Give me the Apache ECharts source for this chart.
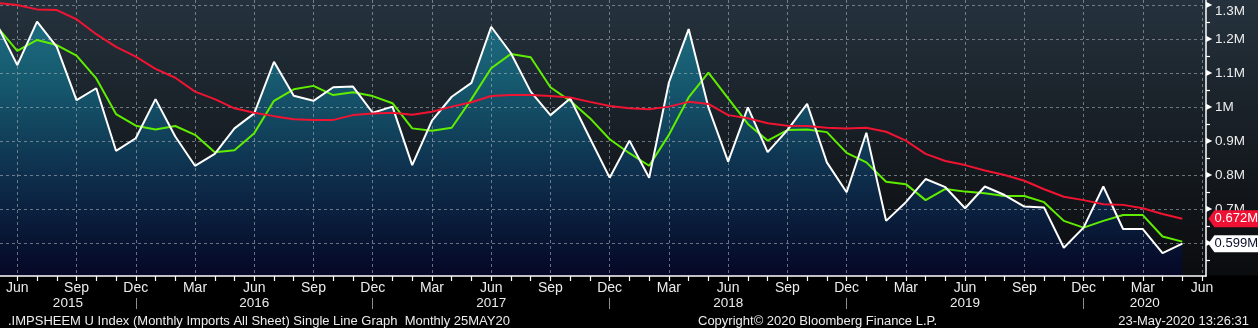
<!DOCTYPE html>
<html>
<head>
<meta charset="utf-8">
<style>
  html, body { margin: 0; padding: 0; background: #000; }
  #chart { width: 1258px; height: 328px; }
</style>
<script src="https://cdn.jsdelivr.net/npm/echarts@6/dist/echarts.min.js"></script>
</head>
<body>
<div id="chart"></div>
<script>
// ---- data (values in millions), monthly May 2015 .. May 2020 ----
const months = [
  '2015-05','2015-06','2015-07','2015-08','2015-09','2015-10','2015-11','2015-12',
  '2016-01','2016-02','2016-03','2016-04','2016-05','2016-06','2016-07','2016-08','2016-09','2016-10','2016-11','2016-12',
  '2017-01','2017-02','2017-03','2017-04','2017-05','2017-06','2017-07','2017-08','2017-09','2017-10','2017-11','2017-12',
  '2018-01','2018-02','2018-03','2018-04','2018-05','2018-06','2018-07','2018-08','2018-09','2018-10','2018-11','2018-12',
  '2019-01','2019-02','2019-03','2019-04','2019-05','2019-06','2019-07','2019-08','2019-09','2019-10','2019-11','2019-12',
  '2020-01','2020-02','2020-03','2020-04','2020-05'
];
const imports = [
  1.240,1.124,1.252,1.178,1.021,1.056,0.872,0.909,
  1.024,0.914,0.828,0.863,0.938,0.982,1.134,1.034,1.019,1.059,1.061,0.984,
  1.002,0.830,0.961,1.031,1.072,1.237,1.159,1.046,0.977,1.026,0.909,0.793,
  0.902,0.793,1.073,1.230,1.000,0.840,1.000,0.868,0.933,1.010,0.838,0.750,
  0.925,0.666,0.721,0.789,0.765,0.703,0.767,0.742,0.708,0.705,0.587,0.646,
  0.767,0.642,0.642,0.571,0.599
];
const avg3m = [
  1.235,1.166,1.198,1.183,1.152,1.085,0.980,0.946,
  0.935,0.945,0.919,0.868,0.874,0.924,1.019,1.053,1.063,1.036,1.044,1.033,
  1.012,0.938,0.931,0.940,1.024,1.115,1.157,1.147,1.059,1.019,0.968,0.906,
  0.865,0.828,0.919,1.029,1.102,1.026,0.951,0.902,0.933,0.935,0.927,0.866,
  0.838,0.781,0.774,0.727,0.760,0.752,0.747,0.739,0.739,0.721,0.666,0.646,
  0.666,0.683,0.683,0.620,0.605
];
const avg12m = [
  1.307,1.301,1.288,1.286,1.259,1.215,1.178,1.149,
  1.113,1.087,1.046,1.024,0.997,0.984,0.974,0.965,0.963,0.963,0.977,0.982,
  0.984,0.978,0.987,1.002,1.015,1.033,1.036,1.036,1.033,1.029,1.016,1.004,
  0.997,0.994,1.002,1.016,1.010,0.977,0.968,0.953,0.946,0.945,0.940,0.938,
  0.940,0.928,0.902,0.863,0.842,0.830,0.814,0.801,0.784,0.759,0.737,0.727,
  0.715,0.713,0.703,0.686,0.672
];
const yTickValues = [0.6,0.7,0.8,0.9,1.0,1.1,1.2,1.3];
const yMinorValues = [0.55,0.65,0.75,0.85,0.95,1.05,1.15,1.25];
const monthNames = ['Jan','Feb','Mar','Apr','May','Jun','Jul','Aug','Sep','Oct','Nov','Dec'];
const footerLeft = '.IMPSHEEM U Index (Monthly Imports All Sheet) Single Line Graph  Monthly 25MAY20';
const footerMid = 'Copyright\u00A9 2020 Bloomberg Finance L.P.';
const footerRight = '23-May-2020 13:26:31';

// ---- helpers: month index with Jun 2015 = 0 ----
const BASE_Y = 2015, BASE_M = 6;
function idxOf(s) { const [y, m] = s.split('-').map(Number); return (y - BASE_Y) * 12 + (m - BASE_M); }
function monthOf(v) { const r = Math.round(v); return ((BASE_M - 1 + r) % 12 + 12) % 12; }
function yearOf(v) { return BASE_Y + Math.floor((BASE_M - 1 + v) / 12); }
const pair = arr => months.map((m, i) => [idxOf(m), arr[i]]);

const X_MIN = -0.876, X_MAX = 60.2;
const Y_MIN = 0.5038, Y_MAX = 1.3156;
const allMonths = [], quarters = [], decs = [];
for (let i = -1; i <= 61; i++) {
  allMonths.push(i);
  const mo = monthOf(i);
  if (mo % 3 === 2) quarters.push(i);
  if (mo === 11) decs.push(i);
}
// year label positions: middle of each visible year span between Dec separators
const bounds = [X_MIN].concat(decs.filter(d => d > X_MIN && d < X_MAX)).concat([X_MAX]);
const yearMids = [];
for (let k = 0; k < bounds.length - 1; k++) yearMids.push((bounds[k] + bounds[k + 1]) / 2);

const FONT = "'Liberation Sans Narrow','Liberation Sans',Arial,sans-serif";
const TXT = '#ececec';
const gridDash = { color: 'rgba(165,172,180,0.62)', width: 1, type: [3, 3] };
const lastI = months.length - 1;
const tagPath = 'path://M0,8 L7,0 L60,0 L60,16 L7,16 Z';

const chart = echarts.init(document.getElementById('chart'), null, { renderer: 'canvas' });
chart.setOption({
  animation: false,
  backgroundColor: {
    type: 'linear', x: 0, y: 0, x2: 0, y2: 1,
    colorStops: [
      { offset: 0, color: '#25323d' },
      { offset: 0.45, color: '#161c22' },
      { offset: 0.838, color: '#0b0c0e' },
      { offset: 0.842, color: '#000000' },
      { offset: 1, color: '#000000' }
    ]
  },
  title: [
    { text: footerLeft, left: 3, top: 310, textStyle: { color: TXT, fontSize: 13, fontWeight: 'normal', fontFamily: FONT } },
    { text: footerMid, left: 693, top: 310, textStyle: { color: TXT, fontSize: 13, fontWeight: 'normal', fontFamily: FONT } },
    { text: footerRight, right: 4, top: 310, textStyle: { color: TXT, fontSize: 13, fontWeight: 'normal', fontFamily: FONT } }
  ],
  grid: { left: 0, right: 52, top: 0, bottom: 52, containLabel: false },
  xAxis: [
    { // quarterly labels + vertical grid
      type: 'value', min: X_MIN, max: X_MAX, position: 'bottom', z: 1.5,
      axisLine: { show: true, onZero: false, lineStyle: { color: '#ffffff', width: 1.5 } },
      axisTick: { show: false, customValues: quarters },
      axisLabel: {
        customValues: quarters, margin: 5, color: TXT, fontSize: 14, fontFamily: FONT,
        formatter: v => monthNames[monthOf(v)]
      },
      splitLine: { show: true, lineStyle: gridDash }
    },
    { // monthly ticks
      type: 'value', min: X_MIN, max: X_MAX, position: 'bottom', z: 1.5,
      axisLine: { show: false, onZero: false },
      axisTick: { show: true, customValues: allMonths, length: 5, lineStyle: { color: '#ffffff', width: 1.2 } },
      axisLabel: { show: false },
      splitLine: { show: false }
    },
    { // year separators + year labels
      type: 'value', min: X_MIN, max: X_MAX, position: 'bottom', offset: 22, z: 1.5,
      axisLine: { show: false, onZero: false },
      axisTick: { show: true, customValues: decs, length: 11, lineStyle: { color: '#8c8c8c', width: 1 } },
      axisLabel: {
        customValues: yearMids, margin: -2, color: TXT, fontSize: 13.5, fontFamily: FONT,
        formatter: v => String(yearOf(v))
      },
      splitLine: { show: false }
    }
  ],
  yAxis: [
    { // major labels + horizontal grid
      type: 'value', min: Y_MIN, max: Y_MAX, position: 'right', z: 1.5,
      axisLine: { show: true, onZero: false, lineStyle: { color: '#ffffff', width: 1.5 } },
      axisTick: { show: false, customValues: yTickValues },
      axisLabel: {
        customValues: yTickValues, margin: 9, color: TXT, fontSize: 13.5, fontFamily: FONT,
        formatter: v => {
          const s = (Math.round(v * 10) / 10) + 'M';
          return v > 1.29 ? '{top|' + s + '}' : s;
        },
        rich: { top: { color: TXT, fontSize: 13.5, fontFamily: FONT, padding: [11, 0, 0, 0] } }
      },
      splitLine: { show: true, lineStyle: gridDash }
    },
    { // minor ticks
      type: 'value', min: Y_MIN, max: Y_MAX, position: 'right', z: 1.5,
      axisLine: { show: false, onZero: false },
      axisTick: { show: true, customValues: yMinorValues, length: 4, lineStyle: { color: '#ffffff', width: 1.2 } },
      axisLabel: { show: false },
      splitLine: { show: false }
    },
    { // triangular tick markers
      type: 'value', min: Y_MIN, max: Y_MAX, position: 'right', z: 1.5,
      axisLine: { show: false, onZero: false },
      axisTick: { show: false, customValues: yTickValues },
      axisLabel: { customValues: yTickValues, margin: 0, color: '#ffffff', fontSize: 8, fontFamily: 'DejaVu Sans', formatter: () => '\u25B6' },
      splitLine: { show: false }
    }
  ],
  series: [
    {
      name: 'area', type: 'line', data: pair(imports), z: 1, clip: false,
      symbol: 'none', silent: true,
      lineStyle: { width: 0, opacity: 0 },
      areaStyle: {
        origin: 'start',
        color: {
          type: 'linear', global: true, x: 0, y: 0, x2: 0, y2: 276,
          colorStops: [
            { offset: 0, color: '#1d8ea5' },
            { offset: 0.3, color: '#136f8a' },
            { offset: 0.62, color: '#0b3a62' },
            { offset: 1, color: '#020530' }
          ]
        }
      }
    },
    {
      name: '3M avg', type: 'line', data: pair(avg3m), z: 3, clip: false,
      symbol: 'none', lineStyle: { color: '#5fee00', width: 2 }
    },
    {
      name: 'Imports', type: 'line', data: pair(imports), z: 3, clip: false,
      symbol: 'none', lineStyle: { color: '#ffffff', width: 2 },
      markPoint: {
        symbol: tagPath, symbolSize: [52, 17], symbolOffset: [52, 0], symbolKeepAspect: false,
        itemStyle: { color: '#ffffff' },
        label: { show: true, position: 'inside', offset: [2, 0], color: '#0a0f2a', fontSize: 13, fontFamily: FONT,
          formatter: p => p.value.toFixed(3) + 'M' },
        data: [{ coord: [idxOf(months[lastI]), imports[lastI]], value: imports[lastI] }]
      }
    },
    {
      name: '12M avg', type: 'line', data: pair(avg12m), z: 4, clip: false,
      symbol: 'none', lineStyle: { color: '#f01432', width: 2 },
      markPoint: {
        symbol: tagPath, symbolSize: [52, 17], symbolOffset: [52, 0], symbolKeepAspect: false,
        itemStyle: { color: '#ee1133' },
        label: { show: true, position: 'inside', offset: [2, 0], color: '#ffffff', fontSize: 13, fontFamily: FONT,
          formatter: p => p.value.toFixed(3) + 'M' },
        data: [{ coord: [idxOf(months[lastI]), avg12m[lastI]], value: avg12m[lastI] }]
      }
    }
  ]
});
</script>
</body>
</html>
